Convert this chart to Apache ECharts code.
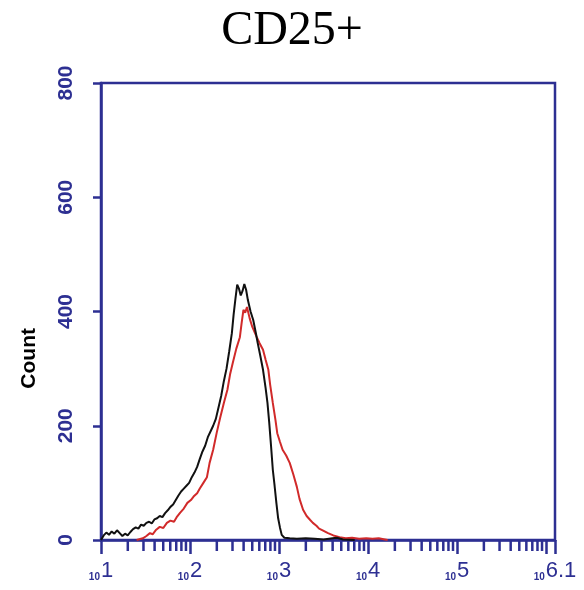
<!DOCTYPE html>
<html>
<head>
<meta charset="utf-8">
<script src="https://cdn.jsdelivr.net/npm/echarts@6/dist/echarts.min.js"></script>
<style>
  html, body { margin: 0; padding: 0; background: #fff; }
  #hist { width: 584px; height: 590px; }
</style>
</head>
<body>
<div id="hist"></div>
<script>
// x = log10 of fluorescence, y = count
var blackCounts = [
  [1.00,0],[1.03,8],[1.06,13],[1.09,9],[1.12,15],[1.15,11],[1.18,17],[1.21,12],[1.24,7],[1.27,11],
  [1.30,8],[1.33,14],[1.36,19],[1.39,22],[1.42,20],[1.45,27],[1.48,25],[1.51,30],[1.54,32],[1.57,29],
  [1.60,36],[1.63,38],[1.66,42],[1.69,40],[1.72,47],[1.75,52],[1.78,58],[1.81,62],[1.84,70],[1.87,78],
  [1.90,85],[1.93,90],[1.96,95],[1.99,100],[2.02,110],[2.05,118],[2.08,128],[2.11,142],[2.14,155],[2.17,165],
  [2.20,180],[2.23,190],[2.26,200],[2.29,212],[2.32,232],[2.35,252],[2.38,278],[2.41,300],[2.44,330],[2.47,362],
  [2.49,395],[2.51,422],[2.53,447],[2.55,440],[2.57,428],[2.59,436],[2.61,448],[2.63,438],[2.65,420],[2.68,400],
  [2.71,385],[2.74,362],[2.76,345],[2.79,322],[2.82,298],[2.85,265],[2.87,240],[2.89,205],[2.91,165],[2.93,123],
  [2.95,95],[2.97,65],[2.99,38],[3.01,22],[3.03,9],[3.06,4],[3.12,3],[3.20,2],[3.30,3],[3.40,2],
  [3.50,1],[3.60,3],[3.65,4],[3.72,1],[3.85,0]
];

var redCounts = [
  [1.40,0],[1.47,3],[1.51,7],[1.55,12],[1.58,10],[1.62,18],[1.66,23],[1.70,21],[1.74,30],[1.78,34],
  [1.82,32],[1.85,40],[1.89,48],[1.93,55],[1.97,65],[2.01,70],[2.04,76],[2.08,82],[2.11,90],[2.15,100],
  [2.19,110],[2.22,135],[2.26,158],[2.30,188],[2.34,215],[2.38,240],[2.42,263],[2.45,290],[2.48,310],[2.52,335],
  [2.56,355],[2.58,380],[2.60,403],[2.62,398],[2.64,408],[2.67,388],[2.70,373],[2.73,362],[2.75,355],[2.78,345],
  [2.82,333],[2.85,315],[2.88,298],[2.90,272],[2.93,240],[2.96,210],[2.98,187],[3.01,172],[3.04,158],[3.08,148],
  [3.12,135],[3.16,115],[3.20,93],[3.23,72],[3.27,53],[3.31,42],[3.35,35],[3.38,30],[3.42,25],[3.45,20],
  [3.49,17],[3.55,12],[3.61,8],[3.68,5],[3.75,3],[3.82,4],[3.90,2],[3.98,3],[4.05,2],[4.12,3],
  [4.19,1],[4.22,0]
];

var decades = [1, 2, 3, 4, 5];
var minorMultipliers = [2, 3, 4, 5, 6, 7, 8, 9];

var navy = '#2d2f92';

// minor tick positions in log space
var minorTicks = [];
decades.forEach(function (d) {
  minorMultipliers.forEach(function (m) {
    minorTicks.push([d + Math.log10(m), 0]);
  });
});

var myChart = echarts.init(document.getElementById('hist'));

var option = {
  animation: false,
  title: {
    text: 'CD25+',
    left: 'center',
    top: 2,
    textStyle: {
      fontFamily: 'Liberation Serif',
      fontSize: 48,
      fontWeight: 'normal',
      color: '#000'
    }
  },
  // y axis name sits lower than the axis middle
  graphic: [{
    type: 'text',
    left: 19,
    top: 328,
    rotation: Math.PI / 2,
    style: {
      text: 'Count',
      fontFamily: 'Liberation Sans',
      fontSize: 21,
      fontWeight: 'bold',
      fill: '#000'
    }
  }],
  grid: {
    left: 101,
    right: 29,
    top: 83,
    bottom: 50,
    show: true,
    borderColor: navy,
    borderWidth: 2.5
  },
  xAxis: {
    type: 'value',
    min: 1,
    max: 6.1,
    interval: 1,
    splitLine: { show: false },
    axisLine: { lineStyle: { color: navy, width: 2.5 } },
    axisTick: { length: 14, lineStyle: { color: navy, width: 2.5 } },
    axisLabel: {
      margin: 20,
      showMaxLabel: true,
      showMinLabel: true,
      formatter: function (v) {
        if (Math.abs(v - 6) < 1e-9) return '';
        return '{s|10}{b|' + v + '}';
      },
      rich: {
        s: { fontSize: 10, fontWeight: 'bold', fontFamily: 'Liberation Sans', color: navy, verticalAlign: 'bottom', padding: [0, 1, 0, 0] },
        b: { fontSize: 22, fontFamily: 'Liberation Sans', color: navy, verticalAlign: 'bottom' }
      }
    }
  },
  yAxis: {
    type: 'value',
    min: 0,
    max: 800,
    interval: 200,
    splitLine: { show: false },
    axisLine: { show: true, lineStyle: { color: navy, width: 2.5 } },
    axisTick: { show: true, length: 8, lineStyle: { color: navy, width: 2.5 } },
    axisLabel: {
      rotate: 90,
      margin: 24,
      color: navy,
      fontFamily: 'Liberation Sans',
      fontSize: 21,
      fontWeight: 'bold'
    }
  },
  series: [
    {
      type: 'custom',
      clip: false,
      silent: true,
      data: minorTicks,
      renderItem: function (params, api) {
        var p = api.coord([api.value(0), 0]);
        return {
          type: 'line',
          shape: { x1: p[0], y1: p[1], x2: p[0], y2: p[1] + 11 },
          style: { stroke: navy, lineWidth: 2.5 }
        };
      },
      z: 1
    },
    {
      name: 'red',
      type: 'line',
      data: redCounts,
      symbol: 'none',
      lineStyle: { color: '#d12a2a', width: 2 },
      z: 2
    },
    {
      name: 'black',
      type: 'line',
      data: blackCounts,
      symbol: 'none',
      lineStyle: { color: '#111', width: 2 },
      z: 3
    }
  ]
};

myChart.setOption(option);
</script>
</body>
</html>
